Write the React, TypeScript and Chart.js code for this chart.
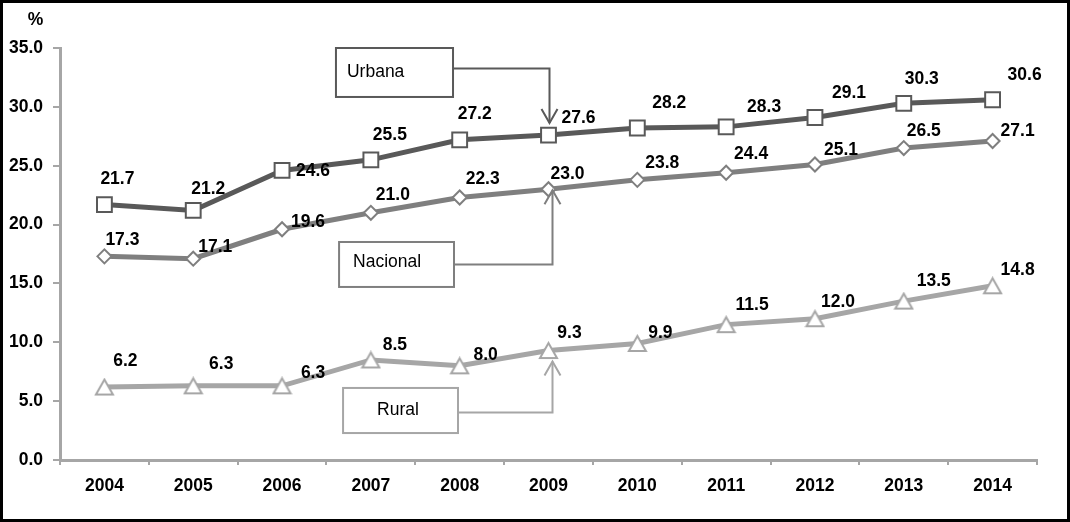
import React, { useEffect, useRef } from "react";
import { Chart, registerables } from "chart.js";

Chart.register(...registerables);

// ---------- data ----------
const years = ["2004", "2005", "2006", "2007", "2008", "2009", "2010", "2011", "2012", "2013", "2014"];
const urbana = [21.7, 21.2, 24.6, 25.5, 27.2, 27.6, 28.2, 28.3, 29.1, 30.3, 30.6];
const nacional = [17.3, 17.1, 19.6, 21.0, 22.3, 23.0, 23.8, 24.4, 25.1, 26.5, 27.1];
const rural = [6.2, 6.3, 6.3, 8.5, 8.0, 9.3, 9.9, 11.5, 12.0, 13.5, 14.8];
const seriesNames = ["Urbana", "Nacional", "Rural"];
const yMin = 0;
const yMax = 35;
const yStep = 5;
const yUnit = "%";

// ---------- layout (label offsets in px from each point) ----------
const urbanaLabelOffsets = [[13, -25], [15, -21], [31, 1], [19, -25], [15, -26], [30, -17], [32, -25], [38, -20], [34, -24], [18, -24], [32, -25]];
const nacionalLabelOffsets = [[18, -16], [22, -12], [26, -7], [22, -18], [23, -18], [19, -15], [25, -17], [25, -19], [26, -14], [20, -17], [25, -10]];
const ruralLabelOffsets = [[21, -26], [28, -22], [31, -13], [24, -15], [26, -11], [21, -17], [23, -10], [26, -19], [23, -17], [30, -20], [25, -16]];

const COLORS = ["#595959", "#7f7f7f", "#a6a6a6"];
const AXIS = "#a6a6a6";
const FONT = '"Liberation Sans", Arial, sans-serif';
const FS = 17.5;

// callout boxes: x in category index units, y in value units
const callouts = [
  { ds: 0, idx: 5, x0: 2.607, x1: 3.925, y0: 35.0, y1: 30.84, textDx: 11, textDy: -0.5, lineDy: -4, arrowDx: 1, tipDy: -12 },
  { ds: 1, idx: 5, x0: 2.642, x1: 3.936, y0: 18.52, y1: 14.7, textDx: 14, textDy: -2, lineDy: 0, arrowDx: 4, tipDy: 1 },
  { ds: 2, idx: 5, x0: 2.687, x1: 3.981, y0: 6.12, y1: 2.29, textDx: 34, textDy: 0, lineDy: 2, arrowDx: 4, tipDy: 11 },
];

function makeTriangle(color: string): HTMLCanvasElement {
  const c = document.createElement("canvas");
  c.width = 21;
  c.height = 19;
  const g = c.getContext("2d")!;
  g.beginPath();
  g.moveTo(10.5, 2);
  g.lineTo(19, 17);
  g.lineTo(2, 17);
  g.closePath();
  g.fillStyle = "#fff";
  g.fill();
  g.lineWidth = 2;
  g.strokeStyle = color;
  g.lineJoin = "miter";
  g.stroke();
  return c;
}

export default function App() {
  const ref = useRef<HTMLCanvasElement | null>(null);

  useEffect(() => {
    document.body.style.margin = "0";
    const canvas = ref.current!;
    const values = [urbana, nacional, rural];
    const offsets = [urbanaLabelOffsets, nacionalLabelOffsets, ruralLabelOffsets];

    const overlay = {
      id: "overlay",
      afterDatasetsDraw(chart: any) {
        const ctx = chart.ctx as CanvasRenderingContext2D;
        const xs = chart.scales.x;
        const ys = chart.scales.y;
        ctx.save();
        // callouts
        callouts.forEach((c, k) => {
          const l = xs.getPixelForValue(c.x0);
          const r = xs.getPixelForValue(c.x1);
          const t = ys.getPixelForValue(c.y0);
          const b = ys.getPixelForValue(c.y1);
          const col = COLORS[c.ds];
          ctx.fillStyle = "#fff";
          ctx.fillRect(l, t, r - l, b - t);
          ctx.lineWidth = 2;
          ctx.strokeStyle = col;
          ctx.strokeRect(l, t, r - l, b - t);
          ctx.fillStyle = "#000";
          ctx.font = `${FS}px ${FONT}`;
          ctx.textAlign = "left";
          ctx.textBaseline = "middle";
          ctx.fillText(seriesNames[c.ds], l + c.textDx, (t + b) / 2 + c.textDy);
          const pt = chart.getDatasetMeta(c.ds).data[c.idx];
          const ax = pt.x + c.arrowDx;
          const my = (t + b) / 2 + c.lineDy;
          const tipY = pt.y + c.tipDy;
          ctx.beginPath();
          ctx.moveTo(r, my);
          ctx.lineTo(ax, my);
          ctx.lineTo(ax, tipY);
          ctx.stroke();
          const dir = tipY > my ? 1 : -1;
          ctx.beginPath();
          ctx.moveTo(ax - 8, tipY - dir * 14);
          ctx.lineTo(ax, tipY);
          ctx.lineTo(ax + 8, tipY - dir * 14);
          ctx.stroke();
        });
        // value labels
        ctx.font = `bold ${FS}px ${FONT}`;
        ctx.fillStyle = "#000";
        ctx.textAlign = "center";
        ctx.textBaseline = "middle";
        values.forEach((vals, di) => {
          const meta = chart.getDatasetMeta(di);
          meta.data.forEach((pt: any, j: number) => {
            const [dx, dy] = offsets[di][j];
            ctx.fillText(vals[j].toFixed(1), pt.x + dx, pt.y + dy);
          });
        });
        // unit
        ctx.fillText(yUnit, chart.chartArea.left - 24.5, chart.chartArea.top - 28);
        ctx.restore();
      },
      afterDraw(chart: any) {
        const ctx = chart.ctx as CanvasRenderingContext2D;
        ctx.save();
        ctx.strokeStyle = "#000";
        ctx.lineWidth = 3;
        ctx.strokeRect(1.5, 1.5, chart.width - 3, chart.height - 3);
        ctx.restore();
      },
    };

    const chart = new Chart(canvas, {
      type: "line",
      data: {
        labels: years,
        datasets: [
          {
            label: seriesNames[0],
            data: urbana,
            borderColor: COLORS[0],
            borderWidth: 5,
            pointStyle: "rect",
            pointRadius: 10.5,
            pointBackgroundColor: "#fff",
            pointBorderColor: COLORS[0],
            pointBorderWidth: 2,
            tension: 0,
          },
          {
            label: seriesNames[1],
            data: nacional,
            borderColor: COLORS[1],
            borderWidth: 5,
            pointStyle: "rectRot",
            pointRadius: 7,
            pointBackgroundColor: "#fff",
            pointBorderColor: COLORS[1],
            pointBorderWidth: 2,
            tension: 0,
          },
          {
            label: seriesNames[2],
            data: rural,
            borderColor: COLORS[2],
            borderWidth: 5,
            pointStyle: makeTriangle(COLORS[2]) as any,
            pointRadius: 10,
            pointBackgroundColor: "#fff",
            pointBorderColor: COLORS[2],
            pointBorderWidth: 2,
            tension: 0,
          },
        ],
      },
      options: {
        responsive: false,
        animation: false,
        devicePixelRatio: 1,
        layout: { padding: { left: 0, top: 48, right: 33, bottom: 0 } },
        plugins: { legend: { display: false }, tooltip: { enabled: false }, title: { display: false } },
        scales: {
          x: {
            type: "category",
            offset: true,
            grid: { offset: true, drawOnChartArea: false, drawTicks: true, tickLength: 5, color: AXIS, lineWidth: 2 },
            border: { display: true, color: AXIS, width: 3 },
            ticks: { color: "#000", font: { family: FONT, size: FS, weight: "bold" }, padding: 11, maxRotation: 0, autoSkip: false },
            afterFit: (s: any) => { s.height = 62; },
          },
          y: {
            min: yMin,
            max: yMax,
            grid: { drawOnChartArea: false, drawTicks: true, tickLength: 7, color: AXIS, lineWidth: 2 },
            border: { display: true, color: AXIS, width: 3 },
            ticks: {
              stepSize: yStep,
              color: "#000",
              font: { family: FONT, size: FS, weight: "bold" },
              padding: 10,
              callback: (v: any) => Number(v).toFixed(1),
            },
            afterFit: (s: any) => { s.width = 60; },
          },
        },
      },
      plugins: [overlay],
    });
    return () => chart.destroy();
  }, []);

  return (
    <div style={{ width: 1070, height: 522 }}>
      <canvas ref={ref} width={1070} height={522} style={{ display: "block" }} />
    </div>
  );
}
